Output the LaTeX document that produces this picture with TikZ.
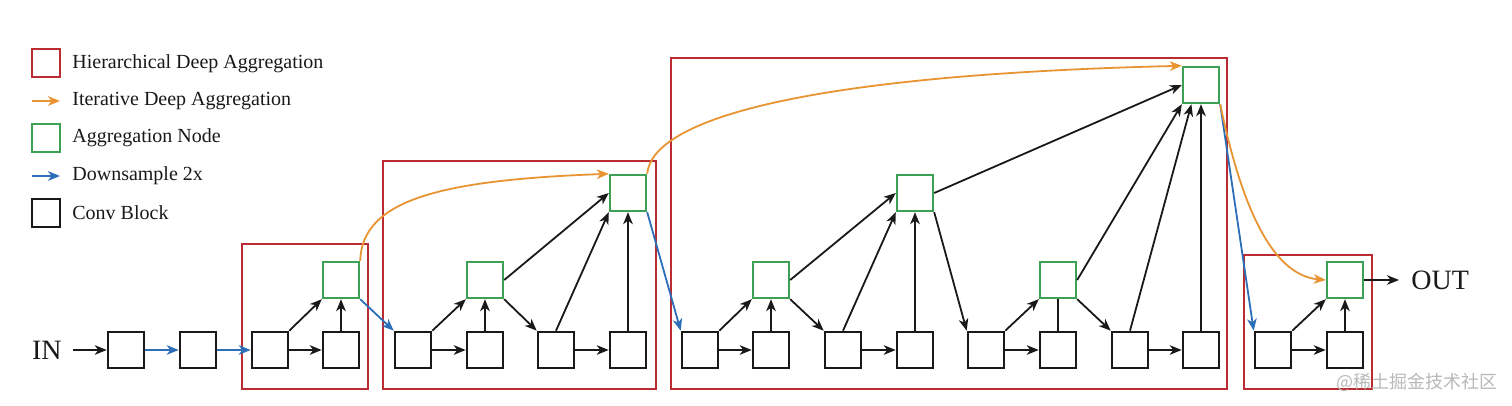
\documentclass[tikz,border=0pt]{standalone}
\usepackage{fontspec}
\setmainfont{Liberation Serif}
\newfontfamily\cjk{Noto Sans CJK SC}
\usetikzlibrary{arrows.meta,calc}
\definecolor{hdared}{RGB}{185,45,50}
\definecolor{idaorange}{RGB}{232,148,50}
\definecolor{agggreen}{RGB}{60,160,85}
\definecolor{dsblue}{RGB}{45,110,185}
\definecolor{convblack}{RGB}{25,25,25}
\definecolor{wmgray}{RGB}{185,185,185}
\begin{document}
\begin{tikzpicture}[x=0.5pt,y=-0.5pt,
  conv/.style={draw=convblack, line width=1.3pt, minimum size=18pt, inner sep=0pt},
  agg/.style={draw=agggreen, line width=1.2pt, minimum size=18pt, inner sep=0pt},
  legbox/.style={line width=1.3pt, minimum size=14pt, inner sep=0pt},
  hda/.style={draw=hdared, line width=0.9pt},
  tip/.style={-{Stealth[length=6pt,width=4.8pt,inset=1.8pt]}},
  arr/.style={draw=convblack, line width=0.9pt, tip},
  plainline/.style={draw=convblack, line width=0.9pt},
  ds/.style={draw=dsblue, line width=0.9pt, tip},
  ida/.style={draw=idaorange, line width=0.9pt, tip},
  legtext/.style={font=\fontsize{10}{12}\selectfont, anchor=west, inner sep=0pt, text=convblack},
  io/.style={font=\fontsize{14}{16}\selectfont, text=convblack}
]
\useasboundingbox[fill=white] (0,0) rectangle (1512,406);

% legend
\node[legbox, draw=hdared] (lr) at (46,63) {};
\node[legtext] (lrt) at (72,64) {Hierarchical Deep Aggregation};
\coordinate (loa) at (32,101); \coordinate (lob) at (60,101);
\draw[ida] (loa) -- (lob);
\node[legtext] (lot) at (72,101) {Iterative Deep Aggregation};
\node[legbox, draw=agggreen] (lg) at (46,138) {};
\node[legtext] (lgt) at (72,138) {Aggregation Node};
\coordinate (lba) at (32,176); \coordinate (lbb) at (60,176);
\draw[ds] (lba) -- (lbb);
\node[legtext] (lbt) at (72,176) {Downsample 2x};
\node[legbox, draw=convblack] (lk) at (46,213) {};
\node[legtext] (lkt) at (72,213) {Conv Block};

% HDA boxes
\draw[hda] (242,244) rectangle (368,389);
\draw[hda] (383,161) rectangle (656,389);
\draw[hda] (671,58) rectangle (1227,389);
\draw[hda] (1244,255) rectangle (1372,389);

% conv blocks
\node[conv] (c1) at (126,350) {};
\node[conv] (c2) at (198,350) {};
\node[conv] (c3) at (270,350) {};
\node[conv] (c4) at (341,350) {};
\node[conv] (c5) at (413,350) {};
\node[conv] (c6) at (485,350) {};
\node[conv] (c7) at (556,350) {};
\node[conv] (c8) at (628,350) {};
\node[conv] (c9) at (700,350) {};
\node[conv] (c10) at (771,350) {};
\node[conv] (c11) at (843,350) {};
\node[conv] (c12) at (915,350) {};
\node[conv] (c13) at (986,350) {};
\node[conv] (c14) at (1058,350) {};
\node[conv] (c15) at (1130,350) {};
\node[conv] (c16) at (1201,350) {};
\node[conv] (c17) at (1273,350) {};
\node[conv] (c18) at (1345,350) {};

% aggregation nodes
\node[agg] (g1) at (341,280) {};
\node[agg] (g2) at (485,280) {};
\node[agg] (g3) at (628,193) {};
\node[agg] (g4) at (771,280) {};
\node[agg] (g5) at (915,193) {};
\node[agg] (g6) at (1058,280) {};
\node[agg] (g7) at (1345,280) {};
\node[agg] (g8) at (1201,85) {};

% IN / OUT
\node[io, anchor=east, inner sep=0pt, inner xsep=5.5pt] (in) at (73,350) {IN};
\node[io, anchor=west, inner sep=0pt, inner xsep=6pt] (out) at (1399,280) {OUT};

% input chain
\draw[arr] (in) -- (c1);
\draw[ds] (c1) -- (c2);
\draw[ds] (c2) -- (c3);

% HDA 1
\draw[arr] (c3) -- (c4);
\draw[arr] (c3.north east) -- (g1.south west);
\draw[arr] (c4) -- (g1);
\draw[ds] (g1.south east) -- (c5.north west);

% HDA 2
\draw[arr] (c5) -- (c6);
\draw[arr] (c5.north east) -- (g2.south west);
\draw[arr] (c6) -- (g2);
\draw[arr] (g2.south east) -- (c7.north west);
\draw[arr] (c7) -- (c8);
\draw[arr] (g2.east) -- (g3.west);
\draw[arr] (c7.north) -- (g3.south west);
\draw[arr] (c8) -- (g3);
\draw[ds] (g3.south east) -- (c9.north west);

% HDA 3
\draw[arr] (c9) -- (c10);
\draw[arr] (c9.north east) -- (g4.south west);
\draw[arr] (c10) -- (g4);
\draw[arr] (g4.south east) -- (c11.north west);
\draw[arr] (c11) -- (c12);
\draw[arr] (g4.east) -- (g5.west);
\draw[arr] (c11.north) -- (g5.south west);
\draw[arr] (c12) -- (g5);
\draw[arr] (g5.south east) -- (c13.north west);
\draw[arr] (g5.east) -- (g8.west);
\draw[arr] (c13) -- (c14);
\draw[arr] (c13.north east) -- (g6.south west);
\draw[plainline] (c14) -- (g6);
\draw[arr] (g6.south east) -- (c15.north west);
\draw[arr] (c15) -- (c16);
\draw[arr] (g6.east) -- (g8.south west);
\draw[arr] (c15.north) -- ($(g8.south west)!0.25!(g8.south east)$);
\draw[arr] (c16) -- (g8);
\draw[ds] (g8.south east) -- (c17.north west);

% HDA 4
\draw[arr] (c17) -- (c18);
\draw[arr] (c17.north east) -- (g7.south west);
\draw[arr] (c18) -- (g7);
\draw[arr] (g7) -- (out.west);

% iterative deep aggregation
\draw[ida] (g1.north east) .. controls (362,200) and (440,180) .. (g3.north west);
\draw[ida] (g3.north east) .. controls (652,120) and (800,75) .. (g8.north west);
\draw[ida] (g8.south east) .. controls (1240,200) and (1270,275) .. (g7.west);

% watermark
\node[font=\cjk\fontsize{9}{11}\selectfont, text=wmgray, inner sep=0pt] (wm) at (1417,382) {@稀土掘金技术社区};
\end{tikzpicture}
\end{document}
